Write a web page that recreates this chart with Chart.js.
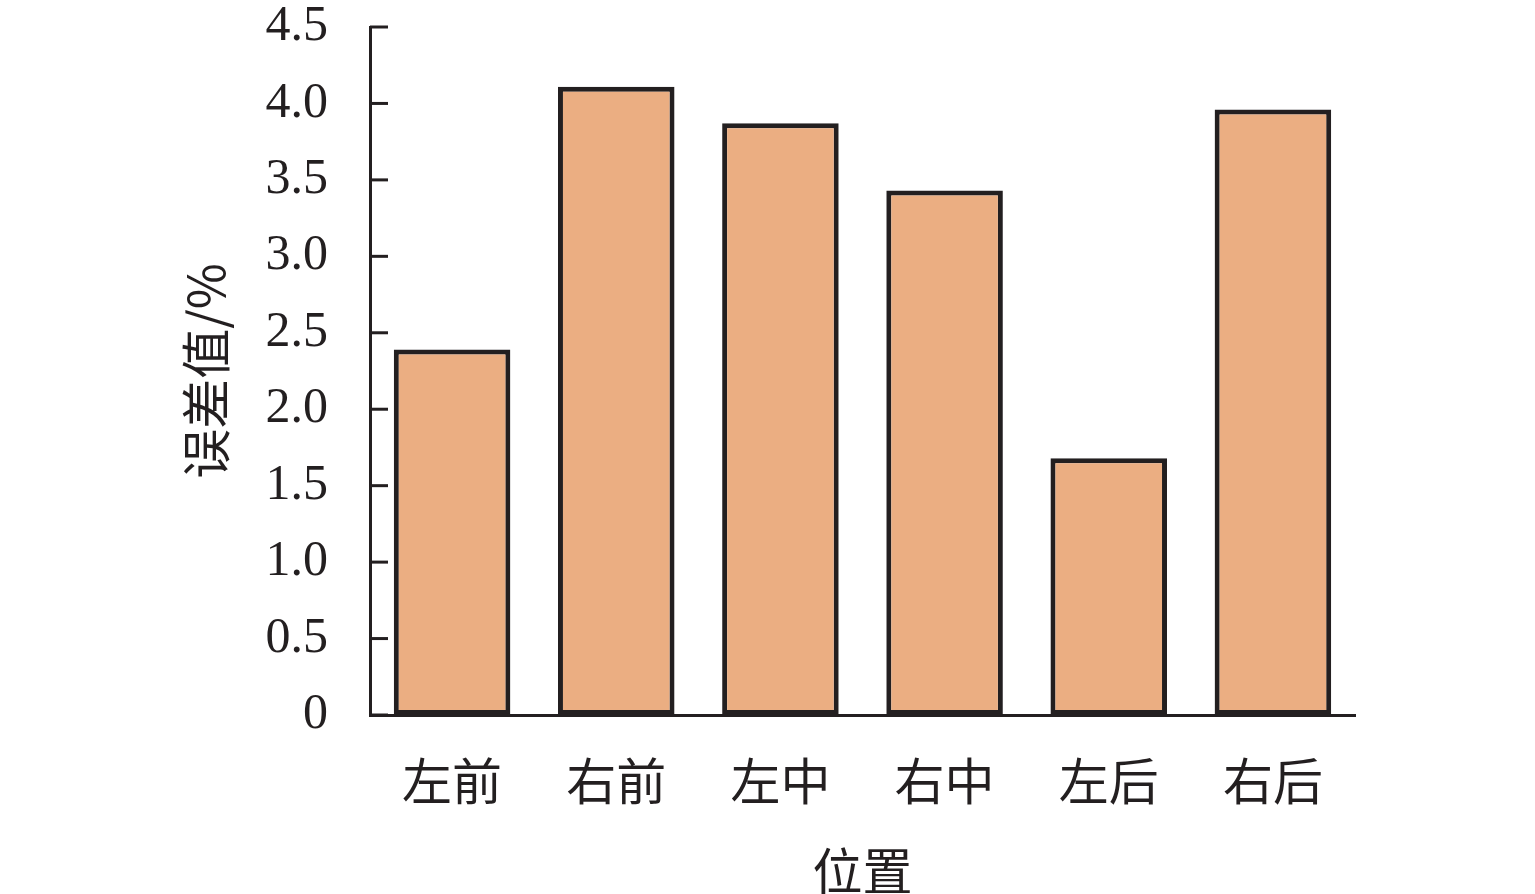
<!DOCTYPE html>
<html>
<head>
<meta charset="utf-8">
<script src="https://cdn.jsdelivr.net/npm/chart.js@4.4.0/dist/chart.umd.min.js"></script>
<style>
  html, body { margin: 0; padding: 0; background: #fff; }
  #wrap { width: 1535px; height: 894px; }
</style>
</head>
<body>
<div id="wrap"><canvas id="errChart" width="1535" height="894"></canvas></div>
<script>
const positions = ["左前", "右前", "左中", "右中", "左后", "右后"];
const errorValues = [2.39, 4.11, 3.87, 3.43, 1.68, 3.96];
const yTickLabels = ["0", "0.5", "1.0", "1.5", "2.0", "2.5", "3.0", "3.5", "4.0", "4.5"];

const ink = "#231f20";
const serif = "'Liberation Serif', 'Times New Roman', 'Noto Sans CJK SC', serif";
const cjk = "'Noto Sans CJK SC', 'Liberation Serif', serif";

// inward tick marks on the y axis
const innerTicks = {
    id: "innerTicks",
    afterDraw(chart) {
        const y = chart.scales.y;
        const ctx = chart.ctx;
        ctx.save();
        ctx.strokeStyle = ink;
        ctx.lineWidth = 3;
        y.ticks.forEach((t, i) => {
            const py = y.getPixelForTick(i);
            ctx.beginPath();
            ctx.moveTo(y.right, py);
            ctx.lineTo(y.right + 18, py);
            ctx.stroke();
        });
        ctx.restore();
    }
};

new Chart(document.getElementById("errChart"), {
    type: "bar",
    data: {
        labels: positions,
        datasets: [{
            data: errorValues,
            backgroundColor: "#ebae82",
            borderColor: ink,
            borderWidth: 5,
            borderSkipped: false,
            barPercentage: 0.71,
            categoryPercentage: 1.0
        }]
    },
    options: {
        responsive: false,
        animation: false,
        layout: { padding: { top: 27, right: 180, left: 0, bottom: 0 } },
        plugins: { legend: { display: false }, tooltip: { enabled: false } },
        scales: {
            x: {
                grid: { display: false, drawTicks: false },
                border: { display: true, color: ink, width: 3 },
                ticks: { color: ink, padding: 36, font: { family: cjk, size: 50 } },
                title: { display: true, text: "位置", color: ink, padding: { top: 4, bottom: -7 }, font: { family: cjk, size: 50 } },
                afterFit: s => { s.height = 179; s.paddingLeft = 0; s.paddingRight = 0; }
            },
            y: {
                min: 0,
                max: 4.5,
                grid: { display: false, drawTicks: false },
                border: { display: true, color: ink, width: 3 },
                ticks: {
                    stepSize: 0.5,
                    color: ink,
                    padding: 42,
                    font: { family: serif, size: 50 },
                    callback: (v, i) => yTickLabels[i]
                },
                title: { display: true, text: "误差值/%", color: ink, padding: { top: 176, bottom: 0 }, font: { family: cjk, size: 50 } },
                afterFit: s => { s.width = 370; s.paddingTop = 0; s.paddingBottom = 0; }
            }
        }
    },
    plugins: [innerTicks]
});
</script>
</body>
</html>
